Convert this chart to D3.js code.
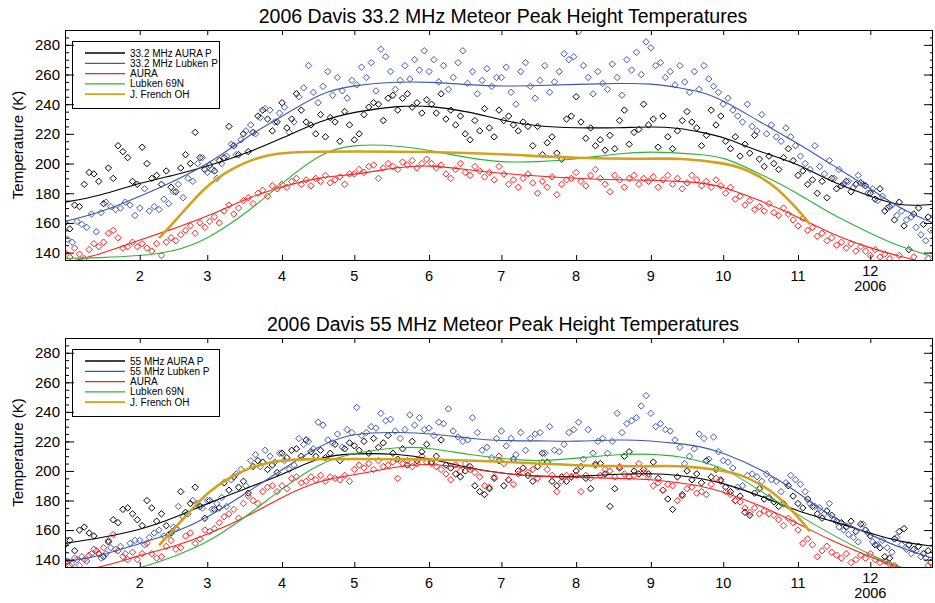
<!DOCTYPE html>
<html>
<head>
<meta charset="utf-8">
<script src="https://cdn.jsdelivr.net/npm/d3@7"></script>
<style>
  body { margin: 0; background: #fff; }
  svg { font-family: "Liberation Sans", Arial, sans-serif; }
</style>
</head>
<body>
<div id="chart"></div>
<script>
// daily scatter, one value every 2 days from the start day (null = no data)
const aura33P = [
  160, 156, 172, 171, 186, 194, 193, 188, 173, 197, 190, 212, 208, 204, 188,
  186, 211, 200, 190, 192, 186, 195, 184, 181, 197, 206, 200, 221, 204, 196,
  199, 195, 202, 204, 225, 212, 206, 220, 208, 221, 232, 236, 230, 222, 228,
  241, 224, 230, 247, 236, 228, 226, 220, 233, 218, 231, 228, 215, 235, 226,
  216, 220, 233, 238, 241, 240, 229, 244, 246, 236, 244, 247, 238, 241, 234,
  243, 240, 234, 247, 230, 236, 226, 232, 220, 216, 229, 222, 237, 224, 218,
  236, 229, 232, 226, 222, 228, 225, 212, 225, 206, 214, 218, 207, 203, 230,
  232, 245, 228, 217, 224, 212, 216, 209, 219, 210, 229, 236, 213, 221, 223,
  240, 226, 230, 211, 232, 218, 210, 222, 229, 235, 228, 224, 212, 219, 236,
  226, 232, 215, 210, 218, 205, 213, 207, 219, 203, 198, 205, 200, 196, 204,
  210, 202, 192, 195, 186, 189, 180, 188, 177, 190, 183, 185, 188, 181, 186,
  187, 185, 180, 176, 183, 168, 171, 162, 174, 158, 142, 166, 170, 159, 164
];
const lubken33P = [
  149, 147, 161, 159, 157, 166, 154, 167, 174, 171, 169, 170, 174, 172, 165,
  170, 183, 168, 171, 169, 176, 173, 181, 186, 177, 190, 188, 200, 204, 194,
  196, 190, 200, 205, 213, 206, 216, 222, 226, 220, 231, 237, 236, 228, 234,
  238, 221, 228, 245, 251, 266, 248, 241, 252, 262, 246, 258, 249, 244, 256,
  253, 265, 258, 268, 249, 277, 272, 262, 250, 256, 266, 257, 270, 263, 276,
  262, 270, 255, 266, 250, 258, 268, 276, 254, 262, 247, 256, 264, 252, 258,
  258, 265, 248, 240, 262, 268, 252, 244, 256, 266, 248, 255, 262, 274, 270,
  272, 289, 266, 258, 247, 262, 254, 250, 267, 258, 246, 270, 263, 275, 260,
  282, 278, 266, 268, 258, 262, 253, 266, 255, 248, 262, 250, 266, 257, 252,
  248, 240, 244, 236, 232, 228, 240, 225, 222, 233, 220, 226, 218, 215, 224,
  218, 212, 205, 200, 196, 212, 198, 193, 202, 190, 196, 186, 188, 184, 192,
  186, 180, 183, 175, 178, 170, 172, 165, 168, 162, 164, 157, 152, 148, 155
];
const aura33 = [
  140, 137, 143, 139, 136, 142, 146, 144, 147, 153, 155, 150, 143, 144, 147,
  144, 146, 143, 141, 146, 138, 147, 150, 148, 152, 155, 158, 153, 160, 157,
  161, 164, 160, 168, 172, 166, 170, 175, 177, 173, 180, 182, 178, 185, 183,
  186, 184, 188, 190, 186, 189, 185, 190, 188, 192, 187, 189, 191, 186, 193,
  193, 196, 194, 198, 199, 190, 197, 200, 198, 196, 201, 199, 202, 197, 200,
  203, 200, 197, 199, 193, 190, 196, 200, 194, 192, 198, 195, 191, 194, 189,
  198, 193, 186, 189, 184, 190, 193, 187, 180, 188, 184, 191, 179, 186, 189,
  190, 194, 188, 185, 192, 196, 190, 186, 181, 192, 189, 184, 190, 192, 186,
  190, 188, 191, 184, 189, 192, 186, 190, 183, 187, 192, 189, 185, 188, 184,
  189, 185, 180, 184, 176, 178, 172, 175, 169, 171, 168, 173, 167, 165, 170,
  166, 162, 158, 163, 155, 157, 151, 153, 148, 150, 145, 147, 143, 146, 141,
  144, 141, 138, 142, 137, 139, 136, null, 138, null, null, 137, null, null, 136
];
const aura55P = [
  150, 153, 146, 160, 162, 158, 156, 144, 142, 152, 167, 165, 174, 175, 171,
  167, 163, 180, 175, 166, 171, 163, 158, 161, 186, 172, 178, 189, 176, 168,
  180, 174, 175, 192, 187, 196, 189, 193, 185, 203, 207, 206, 201, 204, 199,
  212, 209, 214, 215, 210, 221, 213, 210, 214, 209, 212, 218, 207, 215, 219,
  217, 214, 220, 212, 222, 216, 219, 224, 212, 208, 215, 204, 220, 207, 213,
  218, 206, 210, 221, 204, 202, 198, 196, 200, 203, 190, 186, 184, 188, 195,
  207, 190, 194, 208, 200, 202, 197, 193, 203, 212, 206, 193, 190, 196, 193,
  196, 200, 203, 195, 188, 204, 205, 198, 176, 188, 202, 210, 213, 200, 198,
  201, 198, 206, 195, 187, 181, 174, 196, 184, 200, 194, 198, 192, 207, 196,
  201, 194, 189, 186, 180, 183, 172, 170, 185, 188, 181, 182, 179, 176, 178,
  190, 183, 178, 175, 181, 176, 171, 168, 173, 170, 166, 165, 162, 166, 159,
  164, 160, 156, 150, 148, 142, 141, 154, 159, 161, 150, 147, 149, 144, 146
];
const lubken55P = [
  139, 137, 140, 142, 139, 144, 146, 141, 144, 148, 147, 149, 144, 151, 153,
  153, 150, 155, 158, 160, 156, 157, 162, 176, 169, 171, 180, 178, 175, 180,
  174, 178, 182, 176, 194, 198, 201, 190, 207, 211, 203, 214, 210, 206, 212,
  207, 201, 204, 222, 218, 220, 215, 233, 231, 221, 219, 225, 216, 228, 226,
  243, 224, 226, 230, 229, 239, 234, 235, 227, 222, 228, 238, 231, 236, 228,
  229, 224, 233, 232, 242, 227, 223, 220, 221, 236, 226, 214, 216, 209, 222,
  227, 217, 222, 211, 226, 214, 222, 225, 226, 212, 230, 214, 213, 218, 226,
  228, 233, 208, 228, 212, 220, 222, 212, 220, 239, 226, 232, 234, 236, 244,
  251, 239, 230, 232, 228, 227, 221, 216, 205, 210, 215, 225, 222, 208, 223,
  213, 207, 206, 202, 189, 190, 197, 198, 196, 193, 198, 194, 193, 186, 192,
  197, 194, 191, 186, 178, 176, 175, 171, 178, 167, 162, 160, 157, 155, 152,
  164, 158, 152, 150, 153, 148, 145, 155, 150, 147, 144, 146, 142, 141, 138
];
const aura55 = [
  138, 136, 141, 136, 140, 143, 147, 144, 148, 153, 157, 146, 142, 140, 145,
  140, 144, 151, 144, 141, 142, 149, 153, 147, 148, 156, 158, 151, 154, 160,
  159, 161, 165, 169, 171, 174, 168, 178, 183, 180, 178, 186, 189, 190, 186,
  190, 188, 195, 196, 192, 193, 196, 194, 197, 193, 196, 195, 194, 197, 193,
  201, 204, 202, 205, 201, 207, 203, 204, 206, 195, 205, 207, 203, 205, 210,
  206, 205, 203, 201, 198, 194, 204, 200, 205, 201, 199, 196, 190, 189, 196,
  210, 205, 194, 191, 198, 202, 199, 201, 195, 206, 201, 197, 186, 193, 197,
  196, 197, 186, 197, 195, 205, 197, 201, 200, 196, 203, 198, 196, 197, 205,
  199, 196, 190, 192, 187, 191, 190, 180, 183, 188, 189, 185, 186, 184, 191,
  195, 193, 186, 184, 180, 179, 175, 172, 175, 171, 173, 171, 170, 167, 163,
  168, 165, 160, 151, 154, 150, 142, 146, 149, 145, 143, 141, 144, 138, 140,
  143, 141, 144, 140, 138, 139, 137, 136, null, null, null, null, null, null, 136
];

// smooth fits, day of year -> K
const fitDays = [1, 15, 32, 46, 60, 78, 91, 107, 121, 140, 152, 169, 182, 197, 213, 231, 244, 256, 265, 274, 289, 305, 318, 335, 347, 361];
const aura33PFit   = [174, 178, 187, 192, 198, 208, 217, 229, 235, 239, 239, 235, 229, 225, 224, 224, 225, 224, 221, 218, 208, 200, 188, 178, 171, 172.5];
const lubken33PFit = [161, 166.5, 177.7, 188, 199, 220, 231.6, 248, 253, 255.2, 255, 253, 252, 252.5, 253.4, 254, 254, 251, 248.4, 242.8, 228.2, 213.6, 200.2, 183.3, 169.8, 160];
const aura33Fit    = [133, 138.5, 148.5, 156, 164.2, 177.7, 184.4, 191.1, 192.3, 197.9, 199, 195.6, 193.4, 191.5, 190, 188.9, 188.9, 188, 187.1, 184.4, 175.4, 164.2, 153, 142.9, 137.5, 132];
const lubken69Top  = [136.1, 136.5, 137.7, 140.6, 148.5, 168.7, 186.7, 207.5, 213.2, 212, 209, 203.5, 200.8, 201, 202.8, 207, 208, 207, 206, 204.6, 193.4, 180, 166.5, 153, 144, 137.2];
const aura55PFit   = [151, 154.4, 160, 168, 178, 189.4, 197.3, 210, 212, 211.5, 208.6, 201.8, 198.4, 196.1, 196.1, 198, 198.4, 197, 195, 191.7, 183.7, 172.4, 166.8, 157.8, 152.1, 149];
const lubken55PFit = [138.6, 142, 151, 157.8, 168, 187.1, 200.7, 218, 226, 226.2, 225.5, 222.1, 220.3, 220.5, 219.8, 221.4, 220.5, 218.5, 216.5, 212.4, 201.8, 186, 169, 157, 148, 141];
const aura55Fit    = [132, 134, 143.1, 148.7, 156.7, 170.2, 182.6, 194, 197.3, 203.4, 205.2, 201.8, 198.4, 196.1, 195.7, 195, 194.4, 192, 189.8, 186, 177, 164.6, 153.3, 142, 134, 128];
const lubken69Bot  = [125, 128, 134, 142, 151, 171.3, 188.2, 206, 212.4, 216.5, 215.8, 210.8, 208.6, 206.3, 208.6, 211.5, 211.5, 210, 206.3, 202.5, 187.1, 170.2, 157.8, 143.1, 135, 128];
const frenchDays = [40, 47, 54, 61, 68, 75, 82, 89, 98, 121, 152, 182, 213, 244, 256, 274, 282, 289, 296, 302, 306, 310];
const frenchOH   = [149.7, 162, 175, 186.5, 194.3, 200.3, 204.4, 206.8, 208, 208.2, 208, 206.5, 203.5, 203, 203.8, 200.5, 197, 191.5, 184, 174, 167, 159];

const titles = ["2006 Davis 33.2 MHz Meteor Peak Height Temperatures",
                "2006 Davis 55 MHz Meteor Peak Height Temperatures"];
const legendTop = ["33.2 MHz AURA P", "33.2 MHz Lubken P", "AURA", "Lubken 69N", "J. French OH"];
const legendBot = ["55 MHz AURA P", "55 MHz Lubken P", "AURA", "Lubken 69N", "J. French OH"];
const yTicks = [140, 160, 180, 200, 220, 240, 260, 280];

const cBlack = "#000000", cBlue = "#3d57b0", cRed = "#ff1c1c", cGreen = "#2cb334", cGold = "#d2a21e";

const W = 935, H = 603;
const day = n => d3.timeDay.offset(new Date(2006, 0, 1), n - 1);

const panels = [
  { top: 30, bottom: 260, title: titles[0], legend: legendTop,
    scatter: [[aura33P, 1, cBlack], [lubken33P, 2, cBlue], [aura33, 1, cRed]],
    fits: [[aura33PFit, cBlack], [lubken33PFit, cBlue], [aura33Fit, cRed], [lubken69Top, cGreen]] },
  { top: 338, bottom: 567, title: titles[1], legend: legendBot,
    scatter: [[aura55P, 1, cBlack], [lubken55P, 2, cBlue], [aura55, 1, cRed]],
    fits: [[aura55PFit, cBlack], [lubken55PFit, cBlue], [aura55Fit, cRed], [lubken69Bot, cGreen]] }
];

const svg = d3.select("#chart").append("svg")
    .attr("width", W)
    .attr("height", H);

const x = d3.scaleTime()
    .domain([day(1), day(361)])
    .range([65, 933]);

const months = d3.timeMonth.range(new Date(2006, 0, 1), day(361));
const diamond = "M0,-3.2L3.2,0L0,3.2L-3.2,0Z";

panels.forEach((p, i) => {
  const y = d3.scaleLinear().domain([135, 290]).range([p.bottom, p.top]);
  const g = svg.append("g");

  g.append("clipPath").attr("id", "clip" + i)
    .append("rect")
    .attr("x", 65).attr("y", p.top)
    .attr("width", 868).attr("height", p.bottom - p.top);

  const plot = g.append("g").attr("clip-path", `url(#clip${i})`);

  // scatter points
  p.scatter.forEach(([vals, start, color]) => {
    const pts = vals.map((v, k) => ({ d: start + 2 * k, v })).filter(o => o.v != null);
    plot.append("g")
      .selectAll("path")
      .data(pts)
      .join("path")
      .attr("transform", o => `translate(${x(day(o.d))},${y(o.v)})`)
      .attr("d", diamond)
      .attr("fill", "none")
      .attr("stroke", color)
      .attr("stroke-width", 1);
  });

  const line = d3.line()
      .x(o => x(day(o[0])))
      .y(o => y(o[1]))
      .curve(d3.curveBasis);

  p.fits.forEach(([vals, color]) => {
    plot.append("path")
      .attr("d", line(fitDays.map((d, k) => [d, vals[k]])))
      .attr("fill", "none")
      .attr("stroke", color)
      .attr("stroke-width", 1.1);
  });

  plot.append("path")
    .attr("d", line(frenchDays.map((d, k) => [d, frenchOH[k]])))
    .attr("fill", "none")
    .attr("stroke", cGold)
    .attr("stroke-width", 2.6);

  // axes, ticks drawn inward
  const tidy = a => { a.select(".domain").remove(); a.selectAll("line").attr("stroke", "#000"); };

  g.append("g").attr("transform", "translate(65,0)")
    .call(d3.axisLeft(y).tickValues(yTicks).tickSize(-9).tickPadding(5))
    .call(tidy)
    .call(a => a.selectAll("text").attr("font-size", 15).attr("fill", "#000")
      .attr("font-family", '"Liberation Sans", Arial, sans-serif'));
  g.append("g").attr("transform", "translate(65,0)")
    .call(d3.axisLeft(y).tickValues(d3.range(135, 291, 5)).tickSize(-4).tickFormat(""))
    .call(tidy);
  g.append("g").attr("transform", "translate(933,0)")
    .call(d3.axisRight(y).tickValues(yTicks).tickSize(-9).tickFormat(""))
    .call(tidy);
  g.append("g").attr("transform", "translate(933,0)")
    .call(d3.axisRight(y).tickValues(d3.range(135, 291, 5)).tickSize(-3).tickFormat(""))
    .call(tidy);
  g.append("g").attr("transform", `translate(0,${p.bottom})`)
    .call(d3.axisBottom(x).tickValues(months).tickSize(-5).tickFormat(""))
    .call(tidy);
  g.append("g").attr("transform", `translate(0,${p.top})`)
    .call(d3.axisTop(x).tickValues(months).tickSize(-5).tickFormat(""))
    .call(tidy);

  g.append("rect")
    .attr("x", 65.5).attr("y", p.top + 0.5)
    .attr("width", 867).attr("height", p.bottom - p.top)
    .attr("fill", "none")
    .attr("stroke", "#000");

  // month labels
  g.append("g")
    .selectAll("text")
    .data(months.slice(1))
    .join("text")
    .attr("x", m => x(m))
    .attr("y", m => m.getMonth() === 11 ? p.bottom + 16 : p.bottom + 21)
    .attr("text-anchor", "middle")
    .attr("font-size", 14.5)
    .text(d3.timeFormat("%-m"));

  g.append("text")
    .attr("x", x(months[11]))
    .attr("y", p.bottom + 31)
    .attr("text-anchor", "middle")
    .attr("font-size", 14.5)
    .text("2006");

  g.append("text")
    .attr("x", 503).attr("y", p.top - 7)
    .attr("text-anchor", "middle")
    .attr("font-size", 19.5)
    .text(p.title);

  g.append("text")
    .attr("transform", `translate(23,${(p.top + p.bottom) / 2}) rotate(-90)`)
    .attr("text-anchor", "middle")
    .attr("font-size", 15)
    .text("Temperature (K)");

  // legend
  const lg = g.append("g").attr("transform", `translate(72,${p.top + 11})`);
  lg.append("rect")
    .attr("x", 0.5).attr("y", 0.5)
    .attr("width", 147).attr("height", 67)
    .attr("fill", "none")
    .attr("stroke", "#000");
  const legColors = [cBlack, cBlue, cRed, cGreen, cGold];
  p.legend.forEach((lab, k) => {
    const ly = 12 + k * 10.3;
    lg.append("line")
      .attr("x1", 13).attr("x2", 53)
      .attr("y1", ly).attr("y2", ly)
      .attr("stroke", legColors[k])
      .attr("stroke-width", k === 4 ? 1.8 : 1.3);
    lg.append("text")
      .attr("x", 58).attr("y", ly)
      .attr("dy", "0.35em")
      .attr("font-size", 10)
      .text(lab);
  });
});
</script>
</body>
</html>
